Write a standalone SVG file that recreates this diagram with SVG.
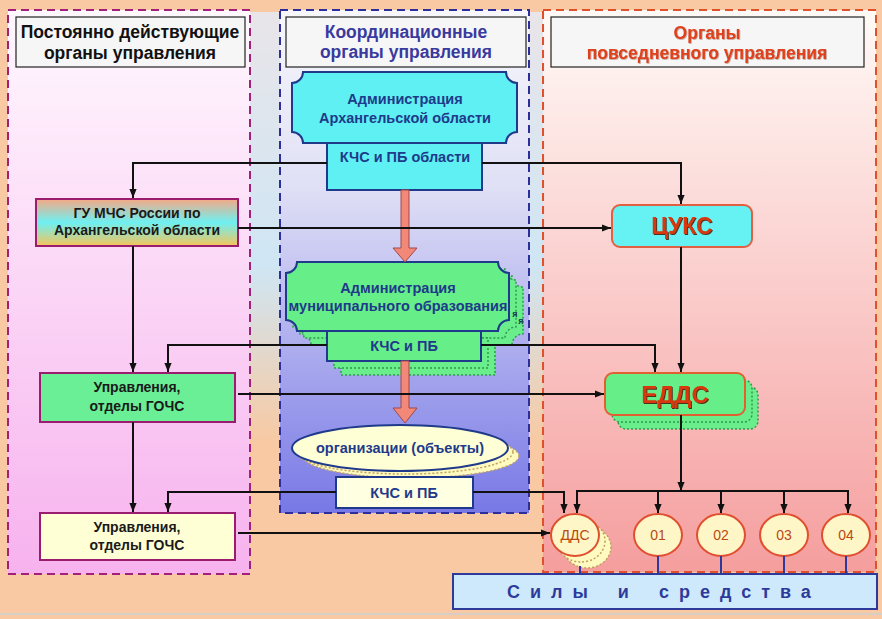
<svg xmlns="http://www.w3.org/2000/svg" width="882" height="619" viewBox="0 0 882 619">
<defs>
<linearGradient id="gGap" gradientUnits="userSpaceOnUse" x1="0" y1="10" x2="0" y2="520">
<stop offset="0" stop-color="#E9E5E9"/><stop offset="0.5" stop-color="#CFE6F4"/><stop offset="0.85" stop-color="#F8C9A2"/></linearGradient>
<linearGradient id="gLeft" x1="0" y1="0" x2="0" y2="1"><stop offset="0" stop-color="#FFF8FE"/><stop offset="1" stop-color="#F7B2EE"/></linearGradient>
<linearGradient id="gMid" x1="0" y1="0" x2="0" y2="1"><stop offset="0" stop-color="#F7F7FC"/><stop offset="0.35" stop-color="#E0E0F6"/><stop offset="1" stop-color="#7878E6"/></linearGradient>
<linearGradient id="gRight" x1="0" y1="0" x2="0" y2="1"><stop offset="0" stop-color="#FFFAF7"/><stop offset="1" stop-color="#F59E9E"/></linearGradient>
<linearGradient id="gGu" x1="0" y1="0" x2="0" y2="1"><stop offset="0" stop-color="#F6A884"/><stop offset="0.5" stop-color="#6EF0F2"/><stop offset="1" stop-color="#F5C45A"/></linearGradient>
<marker id="ah" viewBox="0 0 10 10" refX="10" refY="5" markerWidth="9" markerHeight="9" markerUnits="userSpaceOnUse" orient="auto"><path d="M0,1 L10,5 L0,9 Z" fill="#111"/></marker>
<filter id="sh" x="-10%" y="-20%" width="130%" height="150%"><feDropShadow dx="1" dy="1" stdDeviation="0.4" flood-color="#4A1A08" flood-opacity="0.9"/></filter>
<filter id="sh2" x="-10%" y="-20%" width="130%" height="150%"><feDropShadow dx="0.7" dy="0.7" stdDeviation="0.4" flood-color="#7A2A10" flood-opacity="0.5"/></filter>
</defs>
<style>
text{font-family:"Liberation Sans",Arial,sans-serif;font-weight:bold;text-anchor:middle}
.hdr{fill:#F6F6F6;stroke:#222;stroke-width:1.2}
.h{font-size:17.5px}
.n{font-size:14.5px;fill:#1F3A8A}
.k{font-size:14px;fill:#1A1A1A}
.pl{stroke:#1F3A8A;stroke-width:2}
.lb{fill:none;stroke:#111;stroke-width:2}
.sal{fill:#F28878;stroke:#A04848;stroke-width:1}
.gsh{fill:#6AEE8C;stroke:#2E9A4E;stroke-width:1.5;stroke-dasharray:2 2}
.ysh{fill:#FFFBC0;stroke:#C0A060;stroke-width:1.5;stroke-dasharray:2 2}
.lx{fill:#6AEE96;stroke:#9B1B6E;stroke-width:2}
.circ{fill:#FFF6C8;stroke:#E05030;stroke-width:2}
.ct{font-size:14px;fill:#B84A12;font-weight:normal}
.tick{stroke:#2E3A9A;stroke-width:2}
</style>
<rect x="0" y="0" width="882" height="619" fill="#F8C9A2"/>
<rect x="250" y="12" width="32" height="560" fill="url(#gGap)"/>
<rect x="529" y="12" width="16" height="560" fill="url(#gGap)"/>
<rect x="0" y="613" width="882" height="2" fill="#D6CFC8"/>

<g id="panel-left">
<rect x="8" y="10" width="242" height="564" fill="url(#gLeft)" stroke="#A0207A" stroke-width="2" stroke-dasharray="8 5"/>
<rect class="hdr" x="16" y="17" width="229" height="50"/>
<text class="h" x="130" y="38" fill="#111">Постоянно действующие</text>
<text class="h" x="130" y="59" fill="#111">органы  управления</text>
</g>
<g id="panel-mid">
<rect x="280" y="10" width="249" height="503" fill="url(#gMid)" stroke="#2E2E9A" stroke-width="2" stroke-dasharray="8 5"/>
<rect class="hdr" x="286" y="17" width="240" height="50"/>
<text class="h" x="406" y="38" fill="#3A3A9E">Координационные</text>
<text class="h" x="406" y="58" fill="#3A3A9E">органы  управления</text>
</g>
<g id="panel-right">
<rect x="543" y="10" width="333" height="562" fill="url(#gRight)" stroke="#E0502A" stroke-width="2" stroke-dasharray="8 5"/>
<rect class="hdr" x="551" y="17" width="313" height="50"/>
<text class="h" x="707" y="39" fill="#E0401A" filter="url(#sh2)">Органы</text>
<text class="h" x="707" y="59" fill="#E0401A" filter="url(#sh2)">повседневного управления</text>
</g>

<g id="gu-mchs">
<rect x="36" y="199" width="202" height="47" fill="url(#gGu)" stroke="#9B1B6E" stroke-width="2"/>
<text class="k" x="137" y="218">ГУ МЧС России по</text>
<text class="k" x="137" y="235">Архангельской области</text>
</g>
<g id="upr-1">
<rect class="lx" x="40" y="373" width="195" height="49"/>
<text class="k" x="137" y="392">Управления,</text>
<text class="k" x="137" y="411">отделы  ГОЧС</text>
</g>
<g id="upr-2">
<rect x="40" y="513" width="195" height="47" fill="#FFFFD6" stroke="#9B1B6E" stroke-width="2"/>
<text class="k" x="137" y="532">Управления,</text>
<text class="k" x="137" y="550">отделы  ГОЧС</text>
</g>

<g id="admin-obl">
<path class="pl" fill="#5EF0F2" d="M303,72 H506 A11,11 0 0 0 517,83 V132 A11,11 0 0 0 506,143 H303 A11,11 0 0 0 292,132 V83 A11,11 0 0 0 303,72 Z"/>
<text class="n" x="405" y="104">Администрация</text>
<text class="n" x="405" y="123">Архангельской области</text>
</g>
<g id="kchs-obl">
<rect class="pl" x="327" y="143" width="155" height="47" fill="#5EF0F2"/>
<text class="n" x="405" y="162">КЧС и ПБ области</text>
</g>

<g id="admin-mun">
<g transform="translate(14,14)">
<path class="gsh" d="M297,262 H498 A11,11 0 0 0 509,273 V320 A11,11 0 0 0 498,331 H297 A11,11 0 0 0 286,320 V273 A11,11 0 0 0 297,262 Z"/>
<rect class="gsh" x="327" y="331" width="154" height="30"/>
</g>
<g transform="translate(7,7)">
<path class="gsh" d="M297,262 H498 A11,11 0 0 0 509,273 V320 A11,11 0 0 0 498,331 H297 A11,11 0 0 0 286,320 V273 A11,11 0 0 0 297,262 Z"/>
<rect class="gsh" x="327" y="331" width="154" height="30"/>
</g>
<text x="515" y="317" style="font-size:9px;fill:#1A3A4A">я</text>
<text x="521" y="324" style="font-size:9px;fill:#1A3A4A">я</text>
<path class="pl" fill="#66EE88" d="M297,262 H498 A11,11 0 0 0 509,273 V320 A11,11 0 0 0 498,331 H297 A11,11 0 0 0 286,320 V273 A11,11 0 0 0 297,262 Z"/>
<text class="n" x="398" y="293">Администрация</text>
<text class="n" x="398" y="311">муниципального образования</text>
</g>
<g id="kchs-mun">
<rect class="pl" x="327" y="331" width="154" height="30" fill="#66EE88"/>
<text class="n" x="404" y="351">КЧС и ПБ</text>
</g>

<g id="org">
<ellipse class="ysh" cx="411" cy="456" rx="108" ry="22"/>
<ellipse class="ysh" cx="405" cy="452" rx="108" ry="22"/>
<ellipse cx="400" cy="448" rx="108" ry="23" fill="#FFFFD6" stroke="#1F3A8A" stroke-width="2"/>
<text class="n" x="400" y="453">организации (объекты)</text>
</g>
<g id="kchs-org">
<rect class="pl" x="336" y="477" width="137" height="31" fill="#FFFFE2"/>
<text class="n" x="404" y="498">КЧС и ПБ</text>
</g>

<g id="tsuks">
<rect x="612" y="205" width="140" height="42" rx="8" fill="#66F2F2" stroke="#E06040" stroke-width="2"/>
<text x="682" y="234" style="font-size:23px;fill:#D8380F" filter="url(#sh)">ЦУКС</text>
</g>
<g id="edds">
<rect class="gsh" x="618" y="387" width="140" height="42" rx="8"/>
<rect class="gsh" x="612" y="380" width="140" height="42" rx="8"/>
<rect x="605" y="373" width="140" height="42" rx="8" fill="#66EE88" stroke="#E06030" stroke-width="2"/>
<text x="675" y="403" style="font-size:24px;fill:#D8380F" filter="url(#sh)">ЕДДС</text>
</g>

<g id="dds">
<ellipse class="ysh" cx="587" cy="547" rx="24" ry="21"/>
<ellipse class="ysh" cx="581" cy="541" rx="24" ry="21"/>
<ellipse class="circ" cx="575" cy="535" rx="24" ry="21"/>
<text class="ct" x="575" y="540">ДДС</text>
</g>
<g id="n01"><ellipse class="circ" cx="658" cy="535" rx="24" ry="21"/><text class="ct" x="658" y="540">01</text></g>
<g id="n02"><ellipse class="circ" cx="721" cy="535" rx="24" ry="21"/><text class="ct" x="721" y="540">02</text></g>
<g id="n03"><ellipse class="circ" cx="784" cy="535" rx="24" ry="21"/><text class="ct" x="784" y="540">03</text></g>
<g id="n04"><ellipse class="circ" cx="846" cy="535" rx="24" ry="21"/><text class="ct" x="846" y="540">04</text></g>

<g id="connectors">
<polygon class="sal" points="401,190 409,190 409,248 417,248 405,262 393,248 401,248"/>
<polygon class="sal" points="401,361 409,361 409,408 417,408 405,423 393,408 401,408"/>
<path class="lb" d="M327,163 H133 V198" marker-end="url(#ah)"/>
<path class="lb" d="M482,163 H681 V204" marker-end="url(#ah)"/>
<path class="lb" d="M238,228 H611" marker-end="url(#ah)"/>
<path class="lb" d="M133,246 V372" marker-end="url(#ah)"/>
<path class="lb" d="M327,345 H168 V372" marker-end="url(#ah)"/>
<path class="lb" d="M481,345 H655 V372" marker-end="url(#ah)"/>
<path class="lb" d="M681,247 V372" marker-end="url(#ah)"/>
<path class="lb" d="M238,394 H604" marker-end="url(#ah)"/>
<path class="lb" d="M133,422 V512" marker-end="url(#ah)"/>
<path class="lb" d="M336,492 H168 V512" marker-end="url(#ah)"/>
<path class="lb" d="M473,492 H564 V513" marker-end="url(#ah)"/>
<path class="lb" d="M238,533 H550" marker-end="url(#ah)"/>
<path class="lb" d="M681,415 V491" marker-end="url(#ah)"/>
<path class="lb" d="M577,513 V491 H848 V513" marker-end="url(#ah)"/>
<path class="lb" d="M577,491 V513" marker-end="url(#ah)"/>
<path class="lb" d="M658,491 V513" marker-end="url(#ah)"/>
<path class="lb" d="M721,491 V513" marker-end="url(#ah)"/>
<path class="lb" d="M784,491 V513" marker-end="url(#ah)"/>
<line class="tick" x1="580" y1="566" x2="580" y2="574"/>
<line class="tick" x1="658" y1="556" x2="658" y2="574"/>
<line class="tick" x1="721" y1="556" x2="721" y2="574"/>
<line class="tick" x1="784" y1="556" x2="784" y2="574"/>
<line class="tick" x1="846" y1="556" x2="846" y2="574"/>
</g>

<g id="sily">
<rect x="453" y="574" width="424" height="35" fill="#CDE9FB" stroke="#2E3A9A" stroke-width="2"/>
<text x="507" y="598" style="font-size:18px;fill:#2E3A9A;text-anchor:start;letter-spacing:10px;word-spacing:5px">Силы и средства</text>
</g>
</svg>
